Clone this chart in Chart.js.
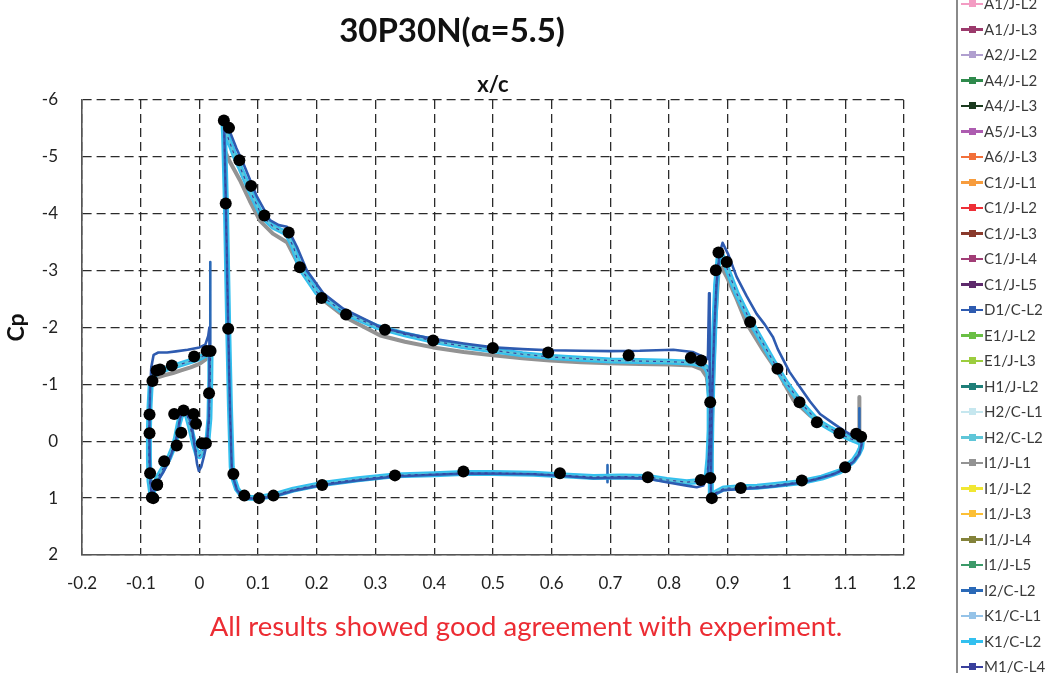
<!DOCTYPE html>
<html>
<head>
<meta charset="utf-8">
<script src="https://cdn.jsdelivr.net/npm/chart.js@4.4.1/dist/chart.umd.min.js"></script>
<style>
  html, body { margin: 0; padding: 0; background: #fff; }
  #wrap { position: relative; width: 1046px; height: 673px; overflow: hidden; font-family: Lato, "Open Sans", sans-serif; }
  #c { position: absolute; left: 0; top: 0; }
  #title { position: absolute; left: 0; top: 11px; width: 904px; text-align: center; font-weight: bold; font-size: 33px; line-height: 36px; color: #111; }
  #note { position: absolute; left: 0; top: 609px; width: 1052px; text-align: center; font-size: 27.5px; line-height: 34px; color: #ec2c33; }
  #legend { position: absolute; left: 956px; top: 0; width: 90px; height: 673px; border-left: 2px solid #8a8a8a; overflow: hidden; }
  .item { position: absolute; left: 0; height: 25.5px; width: 90px; }
  .item .ln { position: absolute; left: 3px; width: 22px; height: 2.5px; top: 11.5px; }
  .item .mk { position: absolute; left: 10.5px; width: 7px; height: 7px; top: 9.25px; }
  .item .tx { position: absolute; left: 26px; top: 0; line-height: 25.5px; font-size: 15px; color: #3a3a3a; white-space: nowrap; }
</style>
</head>
<body>
<div id="wrap">
  <canvas id="c" width="1046" height="673"></canvas>
  <div id="title">30P30N(α=5.5)</div>
  <div id="note">All results showed good agreement with experiment.</div>
  <div id="legend"></div>
</div>
<script>
// Axis ticks
const xTickValues = [-0.2, -0.1, 0, 0.1, 0.2, 0.3, 0.4, 0.5, 0.6, 0.7, 0.8, 0.9, 1, 1.1, 1.2];
const xTickLabels = ['-0.2', '-0.1', '0', '0.1', '0.2', '0.3', '0.4', '0.5', '0.6', '0.7', '0.8', '0.9', '1', '1.1', '1.2'];
const yTickValues = [-6, -5, -4, -3, -2, -1, 0, 1, 2];
const yTickLabels = ['-6', '-5', '-4', '-3', '-2', '-1', '0', '1', '2'];

// Wind-tunnel pressure taps
const expX  = [-0.081, -0.072, -0.085, -0.085, -0.084, -0.072, -0.0785, -0.060, -0.043, -0.027, -0.010, -0.0058, -0.031, -0.0387, 0.004, 0.011,
               -0.080, -0.073, -0.067, -0.047, -0.009, 0.0124, 0.019,
               0.0416, 0.0504, 0.068, 0.088, 0.1106, 0.152, 0.171, 0.208, 0.2497, 0.0448, 0.049, 0.0164,
               0.316, 0.398, 0.4997, 0.594, 0.731, 0.837, 0.8545,
               0.0578, 0.0765, 0.1015, 0.126, 0.209, 0.333, 0.4496, 0.614, 0.7637, 0.854, 0.870, 0.8727, 0.870,
               0.884, 0.8795, 0.898, 0.938, 0.9845, 1.022, 1.0516, 1.090, 1.1186, 1.127, 1.0998, 1.026, 0.922];
const expCp = [0.99, 0.76, -0.47, -0.14, 0.563, 0.77, 1.00, 0.352, -0.48, -0.54, -0.48, -0.306, -0.148, 0.076, 0.035, 0.035,
               -1.06, -1.245, -1.26, -1.33, -1.49, -1.585, -1.585,
               -5.64, -5.51, -4.94, -4.49, -3.97, -3.67, -3.06, -2.52, -2.23, -4.18, -1.98, -0.845,
               -1.96, -1.77, -1.64, -1.56, -1.51, -1.47, -1.42,
               0.574, 0.956, 1.00, 0.956, 0.77, 0.60, 0.53, 0.563, 0.634, 0.68, 0.645, 1.00, -0.687,
               -3.32, -3.005, -3.15, -2.095, -1.275, -0.687, -0.335, -0.141, -0.13, -0.08, 0.458, 0.69, 0.82];

// Typical CFD result: slat, main element, flap
const slatX  = [-0.081, -0.085, -0.086, -0.086, -0.085, -0.083, -0.079, -0.072, -0.060, -0.045, -0.030, -0.015, 0.000, 0.010, 0.016, 0.019, 0.0185, 0.017, 0.014, 0.010, 0.005, 0.000, -0.004, -0.009, -0.015, -0.021, -0.026, -0.030, -0.035, -0.040, -0.045, -0.052, -0.062, -0.072, -0.078, -0.081];
const slatCp = [1.00, 0.70, 0.30, -0.20, -0.60, -1.00, -1.13, -1.21, -1.26, -1.31, -1.36, -1.41, -1.46, -1.52, -1.57, -1.62, -1.10, -0.40, -0.05, 0.06, 0.18, 0.26, 0.22, 0.05, -0.22, -0.45, -0.54, -0.50, -0.32, -0.05, 0.12, 0.30, 0.48, 0.66, 0.85, 1.00];
const mainX  = [0.041, 0.050, 0.060, 0.069, 0.086, 0.106, 0.126, 0.149, 0.160, 0.171, 0.200, 0.245, 0.300, 0.350, 0.400, 0.450, 0.500, 0.550, 0.600, 0.650, 0.700, 0.750, 0.800, 0.840, 0.855, 0.863, 0.867, 0.869, 0.869, 0.867, 0.864, 0.853, 0.830, 0.796, 0.764, 0.720, 0.671, 0.620, 0.569, 0.500, 0.450, 0.400, 0.333, 0.270, 0.209, 0.160, 0.126, 0.098, 0.075, 0.064, 0.057, 0.055, 0.052, 0.049, 0.045, 0.042, 0.041];
const mainCp = [-5.58, -5.30, -5.02, -4.82, -4.41, -3.97, -3.77, -3.65, -3.42, -3.06, -2.62, -2.27, -2.02, -1.88, -1.76, -1.67, -1.60, -1.53, -1.48, -1.45, -1.42, -1.41, -1.40, -1.38, -1.35, -1.30, -1.20, -0.80, -0.20, 0.30, 0.62, 0.70, 0.72, 0.68, 0.63, 0.62, 0.63, 0.60, 0.57, 0.56, 0.56, 0.58, 0.60, 0.67, 0.75, 0.85, 0.95, 1.00, 0.99, 0.84, 0.62, 0.45, -0.60, -2.00, -4.20, -5.40, -5.58];
const flapX  = [0.871, 0.871, 0.872, 0.874, 0.877, 0.880, 0.884, 0.888, 0.893, 0.900, 0.915, 0.938, 0.960, 0.983, 1.000, 1.023, 1.052, 1.075, 1.091, 1.110, 1.125, 1.128, 1.127, 1.122, 1.114, 1.100, 1.091, 1.060, 1.023, 0.980, 0.950, 0.921, 0.893, 0.880, 0.873, 0.871];
const flapCp = [0.98, 0.30, -0.40, -1.20, -2.00, -2.75, -3.20, -3.30, -3.20, -3.00, -2.60, -2.12, -1.72, -1.30, -1.02, -0.69, -0.36, -0.22, -0.13, -0.04, 0.02, 0.02, 0.11, 0.22, 0.34, 0.46, 0.53, 0.64, 0.72, 0.77, 0.80, 0.81, 0.83, 0.90, 0.96, 0.98];

// D1/C-L2: highest suction level
const d1SlatX  = [-0.081, -0.084, -0.085, -0.085, -0.084, -0.082, -0.078, -0.070, -0.055, -0.040, -0.020, 0.000, 0.010, 0.015, 0.017, 0.017, 0.016, 0.013, 0.008, 0.003, -0.001, -0.004, -0.008, -0.013, -0.019, -0.024, -0.028, -0.033, -0.038, -0.044, -0.052, -0.062, -0.072, -0.078, -0.081];
const d1SlatCp = [1.00, 0.60, 0.10, -0.40, -0.90, -1.30, -1.52, -1.56, -1.56, -1.58, -1.61, -1.65, -1.70, -1.85, -2.00, -1.20, -0.40, 0.00, 0.25, 0.45, 0.52, 0.40, 0.10, -0.25, -0.48, -0.60, -0.58, -0.40, -0.10, 0.12, 0.35, 0.55, 0.72, 0.88, 1.00];
const d1MainX  = [0.042, 0.052, 0.063, 0.075, 0.098, 0.120, 0.135, 0.149, 0.166, 0.183, 0.211, 0.245, 0.308, 0.350, 0.398, 0.450, 0.500, 0.550, 0.597, 0.650, 0.699, 0.750, 0.807, 0.840, 0.853, 0.866, 0.868, 0.869, 0.870, 0.869, 0.866, 0.858, 0.847, 0.830, 0.796, 0.764, 0.720, 0.671, 0.620, 0.569, 0.500, 0.450, 0.400, 0.333, 0.270, 0.209, 0.160, 0.126, 0.098, 0.075, 0.064, 0.057, 0.055, 0.052, 0.049, 0.045, 0.042];
const d1MainCp = [-5.62, -5.44, -5.15, -4.88, -4.30, -3.89, -3.80, -3.77, -3.42, -3.00, -2.60, -2.33, -2.01, -1.90, -1.80, -1.72, -1.65, -1.62, -1.60, -1.59, -1.585, -1.59, -1.61, -1.57, -1.51, -1.45, -2.60, -1.40, -0.70, 0.00, 0.60, 0.78, 0.81, 0.78, 0.72, 0.66, 0.64, 0.65, 0.61, 0.58, 0.57, 0.57, 0.59, 0.62, 0.69, 0.77, 0.87, 0.97, 1.01, 1.00, 0.86, 0.62, 0.45, -0.60, -2.00, -4.20, -5.62];
const d1FlapX  = [0.871, 0.872, 0.874, 0.877, 0.881, 0.886, 0.891, 0.900, 0.915, 0.932, 0.949, 0.963, 0.977, 0.985, 0.992, 1.005, 1.023, 1.040, 1.057, 1.080, 1.097, 1.112, 1.125, 1.128, 1.124, 1.114, 1.100, 1.080, 1.050, 1.023, 0.980, 0.950, 0.921, 0.893, 0.880, 0.873, 0.871];
const d1FlapCp = [0.98, 0.00, -1.00, -2.00, -2.80, -3.30, -3.49, -3.30, -2.89, -2.55, -2.24, -2.05, -1.83, -1.62, -1.48, -1.22, -0.95, -0.70, -0.48, -0.31, -0.19, -0.10, -0.04, 0.05, 0.22, 0.36, 0.48, 0.58, 0.67, 0.73, 0.79, 0.82, 0.84, 0.86, 0.92, 0.97, 0.98];

// I1/J-L1: lowest suction level
const i1SlatX  = [-0.081, -0.085, -0.086, -0.085, -0.083, -0.079, -0.072, -0.060, -0.045, -0.030, -0.015, 0.000, 0.012, 0.017, 0.019, 0.0185, 0.017, 0.014, 0.010, 0.005, 0.000, -0.004, -0.009, -0.015, -0.021, -0.026, -0.030, -0.035, -0.040, -0.045, -0.052, -0.062, -0.072, -0.078, -0.081];
const i1SlatCp = [1.00, 0.70, 0.00, -0.60, -0.95, -1.05, -1.12, -1.16, -1.20, -1.25, -1.30, -1.36, -1.45, -1.52, -1.55, -1.10, -0.40, -0.05, 0.06, 0.18, 0.26, 0.22, 0.05, -0.22, -0.45, -0.54, -0.50, -0.32, -0.05, 0.12, 0.30, 0.48, 0.66, 0.85, 1.00];
const i1MainX  = [0.043, 0.050, 0.069, 0.086, 0.103, 0.125, 0.149, 0.160, 0.177, 0.211, 0.250, 0.308, 0.350, 0.398, 0.450, 0.500, 0.550, 0.597, 0.650, 0.699, 0.750, 0.801, 0.840, 0.855, 0.864, 0.868, 0.869, 0.867, 0.864, 0.853, 0.830, 0.796, 0.764, 0.720, 0.671, 0.620, 0.569, 0.500, 0.450, 0.400, 0.333, 0.270, 0.209, 0.160, 0.126, 0.098, 0.075, 0.064, 0.057, 0.055, 0.052, 0.049, 0.046, 0.043];
const i1MainCp = [-5.12, -4.95, -4.59, -4.22, -3.88, -3.65, -3.50, -3.28, -2.95, -2.48, -2.17, -1.86, -1.75, -1.65, -1.57, -1.51, -1.46, -1.42, -1.39, -1.37, -1.36, -1.35, -1.33, -1.27, -1.13, -0.80, -0.20, 0.30, 0.62, 0.70, 0.72, 0.68, 0.63, 0.62, 0.63, 0.60, 0.57, 0.56, 0.56, 0.58, 0.60, 0.67, 0.75, 0.85, 0.95, 1.00, 0.99, 0.84, 0.62, 0.45, -0.60, -2.00, -4.00, -5.12];
const i1FlapX  = [0.871, 0.872, 0.874, 0.878, 0.884, 0.890, 0.900, 0.915, 0.932, 0.960, 0.985, 1.012, 1.040, 1.060, 1.080, 1.100, 1.118, 1.124, 1.124, 1.124, 1.128, 1.122, 1.114, 1.100, 1.091, 1.060, 1.023, 0.980, 0.950, 0.921, 0.893, 0.880, 0.873, 0.871];
const i1FlapCp = [0.98, 0.20, -0.80, -2.00, -2.98, -3.05, -2.85, -2.50, -2.07, -1.60, -1.22, -0.72, -0.45, -0.32, -0.19, -0.10, -0.04, -0.10, -0.78, -0.10, 0.02, 0.22, 0.34, 0.45, 0.53, 0.64, 0.72, 0.77, 0.80, 0.81, 0.83, 0.90, 0.96, 0.98];

// I2/C-L2: trailing-edge spikes
const i2SlatTeX  = [0.0185, 0.0185];
const i2SlatTeCp = [-1.70, -3.15];
const i2LowerX   = [0.695, 0.695];
const i2LowerCp  = [0.72, 0.42];
const i2FlapTeX  = [1.124, 1.124];
const i2FlapTeCp = [0.00, -0.58];

// Legend entries and colours
const seriesNames  = ['A1/J-L2', 'A1/J-L3', 'A2/J-L2', 'A4/J-L2', 'A4/J-L3', 'A5/J-L3', 'A6/J-L3', 'C1/J-L1', 'C1/J-L2', 'C1/J-L3', 'C1/J-L4', 'C1/J-L5', 'D1/C-L2', 'E1/J-L2', 'E1/J-L3', 'H1/J-L2', 'H2/C-L1', 'H2/C-L2', 'I1/J-L1', 'I1/J-L2', 'I1/J-L3', 'I1/J-L4', 'I1/J-L5', 'I2/C-L2', 'K1/C-L1', 'K1/C-L2', 'M1/C-L4'];
const seriesColors = ['#f39cc3', '#9b3a6c', '#b09fcf', '#2f8a4c', '#1b3a1f', '#ad5cb0', '#f2703a', '#f79c3d', '#ee2f36', '#8a3a2c', '#a13d76', '#5e2a6c', '#2e5bb0', '#6abf45', '#9ccd3e', '#1f7f79', '#c6e7ef', '#5fc6d8', '#939393', '#f1e733', '#fcbf35', '#83823a', '#3c9a69', '#2a69b7', '#95c3e8', '#33c0ef', '#393f9c'];

function pts(xs, cps) { return xs.map((x, i) => ({ x: x, y: cps[i] })); }
const GAP = { x: null, y: null };
function joinParts(parts) {
  const out = [];
  parts.forEach((p, k) => { if (k) out.push(GAP); out.push(...p); });
  return out;
}

const baseCurve = [pts(slatX, slatCp), pts(mainX, mainCp), pts(flapX, flapCp)];
const d1Curve   = [pts(d1SlatX, d1SlatCp), pts(d1MainX, d1MainCp), pts(d1FlapX, d1FlapCp)];
const i1Curve   = [pts(i1SlatX, i1SlatCp), pts(i1MainX, i1MainCp), pts(i1FlapX, i1FlapCp)];
const i2Spikes  = [pts(i2SlatTeX, i2SlatTeCp), pts(i2LowerX, i2LowerCp), pts(i2FlapTeX, i2FlapTeCp)];

const styleByName = {
  'M1/C-L4': { order: 1, width: 1.2, dash: [3, 4] },
  'D1/C-L2': { order: 2, width: 2.6 },
  'H2/C-L2': { order: 3, width: 2.4 },
  'K1/C-L2': { order: 4, width: 6 },
  'I2/C-L2': { order: 5, width: 2.6 },
  'I1/J-L1': { order: 6, width: 4 }
};

const datasets = [{
  label: 'Experiment',
  data: pts(expX, expCp),
  showLine: false,
  pointRadius: 6,
  pointBackgroundColor: '#000',
  pointBorderWidth: 0,
  borderColor: '#000',
  backgroundColor: '#000',
  order: 0
}];

seriesNames.forEach((name, i) => {
  let parts = baseCurve;
  if (name === 'D1/C-L2') parts = d1Curve;
  if (name === 'I1/J-L1') parts = i1Curve;
  if (name === 'I2/C-L2') parts = baseCurve.concat(i2Spikes);
  const st = styleByName[name] || { order: 7, width: 2 };
  datasets.push({
    label: name,
    data: joinParts(parts),
    showLine: true,
    spanGaps: false,
    borderColor: seriesColors[i],
    backgroundColor: seriesColors[i],
    borderWidth: st.width,
    borderDash: st.dash || [],
    borderJoinStyle: 'round',
    borderCapStyle: st.dash ? 'butt' : 'round',
    pointRadius: 0,
    tension: 0,
    order: st.order
  });
});

const tickFont = { family: 'Lato, "Open Sans", sans-serif', size: 17 };
const gridStyle = { color: '#2b2b2b', lineWidth: 1.3, drawTicks: false };
const borderStyle = { display: true, color: '#555', width: 1.6, dash: [9, 5] };

new Chart(document.getElementById('c'), {
  type: 'scatter',
  data: { datasets },
  options: {
    responsive: false,
    animation: false,
    events: [],
    layout: { padding: { left: 0, right: 142, top: 0, bottom: 0 } },
    plugins: { legend: { display: false }, tooltip: { enabled: false }, title: { display: false } },
    scales: {
      x: {
        type: 'linear', position: 'bottom', min: -0.2, max: 1.2,
        afterBuildTicks: s => { s.ticks = xTickValues.map(v => ({ value: v })); },
        afterFit: s => { s.height = 118; },
        ticks: { font: tickFont, color: '#222', padding: 18, maxRotation: 0, autoSkip: false,
                 callback: (v, i) => xTickLabels[i] },
        grid: gridStyle,
        border: borderStyle
      },
      xTop: {
        type: 'linear', position: 'top', min: -0.2, max: 1.2,
        afterFit: s => { s.height = 100; },
        ticks: { display: false },
        grid: { display: false },
        border: { display: false },
        title: { display: true, text: 'x/c', color: '#111',
                 font: { family: 'Lato, "Open Sans", sans-serif', size: 22, weight: 'bold' },
                 padding: { top: 72, bottom: 0 } }
      },
      y: {
        type: 'linear', position: 'left', min: -6, max: 2, reverse: true,
        afterBuildTicks: s => { s.ticks = yTickValues.map(v => ({ value: v })); },
        afterFit: s => { s.width = 82; },
        ticks: { font: tickFont, color: '#222', padding: 24, autoSkip: false,
                 callback: (v, i) => yTickLabels[i] },
        grid: gridStyle,
        border: borderStyle,
        title: { display: true, text: 'Cp', color: '#111',
                 font: { family: 'Lato, "Open Sans", sans-serif', size: 23, weight: 'bold' },
                 padding: { top: 3, bottom: 0 } }
      }
    }
  }
});

// Legend list beside the plot
const legend = document.getElementById('legend');
const firstCenter = 3.8 - 25.5; // experiment entry sits above the visible edge
datasets.forEach((ds, i) => {
  const item = document.createElement('div');
  item.className = 'item';
  item.style.top = (firstCenter + 25.5 * i - 12.75) + 'px';
  const ln = document.createElement('div');
  ln.className = 'ln';
  ln.style.background = ds.showLine ? ds.borderColor : 'transparent';
  const mk = document.createElement('div');
  mk.className = 'mk';
  mk.style.background = ds.borderColor;
  if (!ds.showLine) mk.style.borderRadius = '50%';
  const tx = document.createElement('div');
  tx.className = 'tx';
  tx.textContent = ds.label;
  item.appendChild(ln); item.appendChild(mk); item.appendChild(tx);
  legend.appendChild(item);
});
</script>
</body>
</html>
